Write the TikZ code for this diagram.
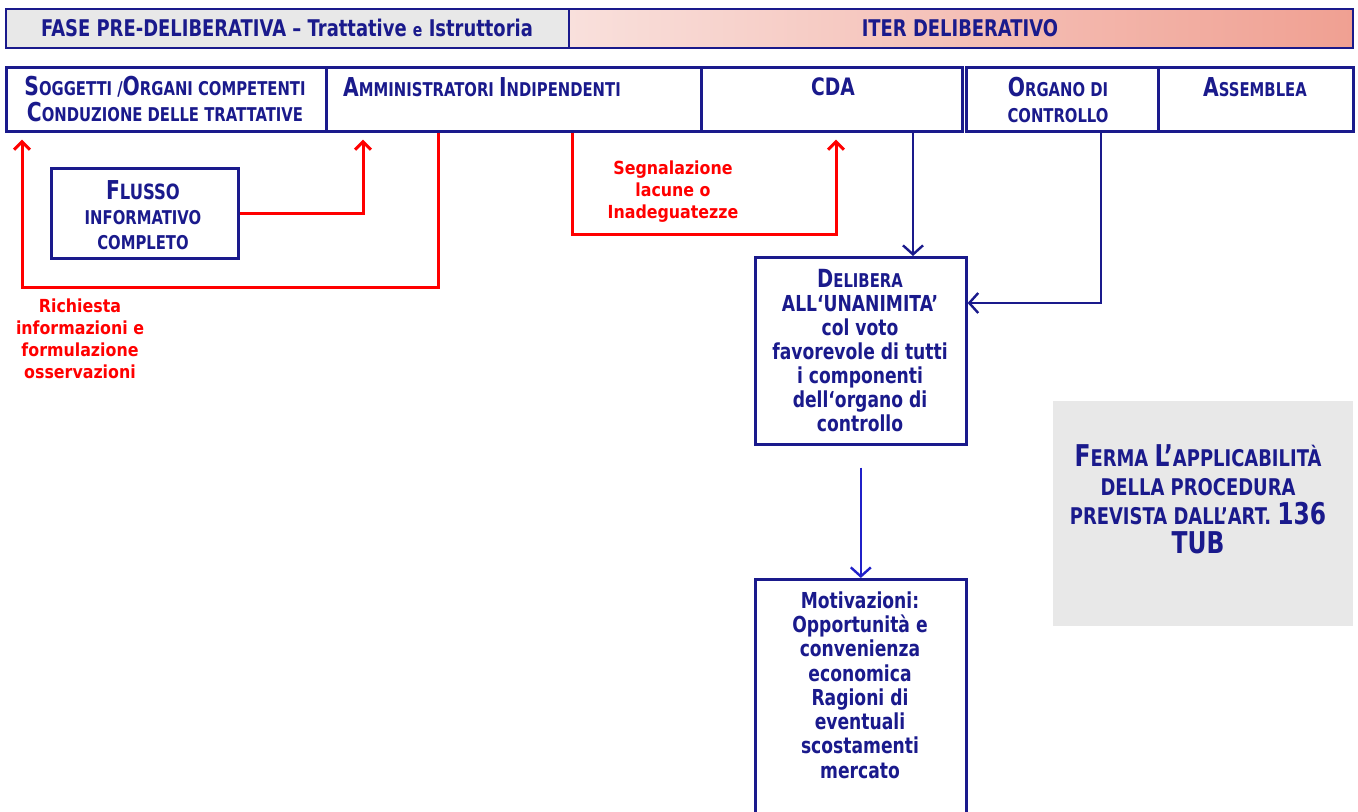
\documentclass[tikz,border=0pt]{standalone}
\usepackage{fontspec}
\setmainfont{DejaVu Sans}
\newfontfamily\nar[FakeStretch=0.78,Ligatures=TeX]{DejaVu Sans}
\newfontfamily\redf[FakeStretch=0.88,Ligatures=TeX]{DejaVu Sans}
\usetikzlibrary{arrows.meta,calc}
\definecolor{navy}{RGB}{26,26,140}
\definecolor{arrblue}{RGB}{32,32,200}
\definecolor{redc}{RGB}{255,0,0}
\definecolor{grayf}{RGB}{232,232,232}
\definecolor{pinkL}{RGB}{249,224,220}
\definecolor{pinkR}{RGB}{240,160,146}
\newcommand\ftsz[2]{{\fontsize{#1}{#1}\selectfont #2}}
\begin{document}
\begin{tikzpicture}[x=0.5pt,y=-0.5pt,
  cell/.style={draw=navy, line width=1.3pt, fill=white, inner sep=0pt, anchor=north west},
  txt/.style={text=navy, align=center, inner sep=0pt},
  rtxt/.style={text=redc, font=\redf\bfseries\fontsize{9}{11}\selectfont, align=center, inner sep=0pt},
  redarr/.style={draw=redc, line width=1.5pt, -{Straight Barb[length=4pt,width=8pt]}},
  bluarr/.style={draw=navy, line width=1.2pt, -{Straight Barb[length=4.5pt,width=10pt]}},
]
\useasboundingbox (0,0) rectangle (1358,812);
\clip (0,0) rectangle (1358,812);

% top header
\node[cell, line width=1pt, fill=grayf, minimum width=281.5pt, minimum height=19.5pt] (hdrL) at (5,8) {};
\node[cell, line width=1pt, left color=pinkL, right color=pinkR, minimum width=392pt, minimum height=19.5pt] (hdrR) at (568,8) {};
\node[txt, font=\nar\bfseries\fontsize{11.5}{13}\selectfont] (hdrLt) at (287,28) {FASE PRE-DELIBERATIVA – Trattative \ftsz{9}{e} Istruttoria};
\node[txt, font=\nar\bfseries\fontsize{11.5}{13}\selectfont] (hdrRt) at (960,28) {ITER DELIBERATIVO};

% second row
\node[cell, minimum width=160pt, minimum height=32pt] (sog) at (5,66) {};
\node[cell, minimum width=187.5pt, minimum height=32pt] (amm) at (325,66) {};
\node[cell, minimum width=130.5pt, minimum height=32pt] (cda) at (700,66) {};
\node[cell, minimum width=96pt, minimum height=32pt] (org) at (965,66) {};
\node[cell, minimum width=97.5pt, minimum height=32pt] (ass) at (1157,66) {};

\node[txt, font=\nar\bfseries\fontsize{9.5}{13}\selectfont] (sogt) at (165,99)
  {\ftsz{13}{S}OGGETTI /\ftsz{13}{O}RGANI COMPETENTI\\\ftsz{13}{C}ONDUZIONE DELLE TRATTATIVE};
\node[txt, font=\nar\bfseries\fontsize{9.5}{13}\selectfont] (ammt) at (482,87)
  {\ftsz{13}{A}MMINISTRATORI \ftsz{13}{I}NDIPENDENTI};
\node[txt, font=\nar\bfseries\fontsize{12}{13}\selectfont] (cdat) at (833,87) {CDA};
\node[txt, font=\nar\bfseries\fontsize{9.5}{13}\selectfont] (orgt) at (1058,100)
  {\ftsz{13}{O}RGANO DI\\CONTROLLO};
\node[txt, font=\nar\bfseries\fontsize{9.5}{13}\selectfont] (asst) at (1255,87)
  {\ftsz{13}{A}SSEMBLEA};

% flusso
\node[cell, minimum width=93.5pt, minimum height=45pt] (flusso) at (50,167) {};
\node[txt, font=\nar\bfseries\fontsize{9.5}{12.5}\selectfont] (flussot) at (143,215)
  {\ftsz{13}{F}\ftsz{10.5}{LUSSO}\\INFORMATIVO\\COMPLETO};

% red connectors
\draw[redarr] (flusso.east) -| ($(amm.south west)+(38,7)$);
\draw[redarr] ($(amm.south west)+(113,0)$) -- ++(0,155) -| ($(sog.south west)+(17,7)$);
\draw[redarr] ($(amm.south east)+(-130,0)$) -- ++(0,102) -| ($(cda.south west)+(136,7)$);
\node[rtxt] (rich) at (80,339) {Richiesta\\informazioni e\\formulazione\\osservazioni};
\node[rtxt] (segn) at (673,192) {Segnalazione\\lacune o\\Inadeguatezze};

% delibera
\node[cell, minimum width=105.5pt, minimum height=93.5pt] (delib) at (754,256) {};
\node[txt, font=\nar\bfseries\fontsize{11}{12}\selectfont] (delibt) at (860,351)
  {\ftsz{12.5}{D}\ftsz{9.5}{ELIBERA}\\ALL‘UNANIMITA’\\col voto\\favorevole di tutti\\i componenti\\dell‘organo di\\controllo};

% motivazioni
\node[cell, minimum width=105.5pt, minimum height=140pt] (motiv) at (754,578) {};
\node[txt, font=\nar\bfseries\fontsize{11}{12.15}\selectfont] (motivt) at (860,685)
  {Motivazioni:\\Opportunità e\\convenienza\\economica\\Ragioni di\\eventuali\\scostamenti\\mercato};

% blue connectors
\coordinate (c1) at ($(cda.south west)+(213,0)$);
\draw[bluarr] (c1) -- (c1 |- delib.north);
\coordinate (c2) at ($(org.south west)+(136,0)$);
\draw[bluarr] (c2) |- ($(delib.north east)+(0,47)$);
\draw[bluarr, draw=arrblue] ($(delib.south)+(0,22)$) -- (motiv.north);

% grey box
\node[cell, draw=none, fill=grayf, minimum width=150pt, minimum height=112.5pt] (ferma) at (1052,400) {};
\node[txt, font=\nar\bfseries\fontsize{11.5}{14.5}\selectfont] (fermat) at (1198,499)
  {\ftsz{15}{F}ERMA \ftsz{15}{L’}APPLICABILITÀ\\DELLA PROCEDURA\\PREVISTA DALL’ART. \ftsz{15}{136}\\\ftsz{15}{TUB}};
\end{tikzpicture}
\end{document}
